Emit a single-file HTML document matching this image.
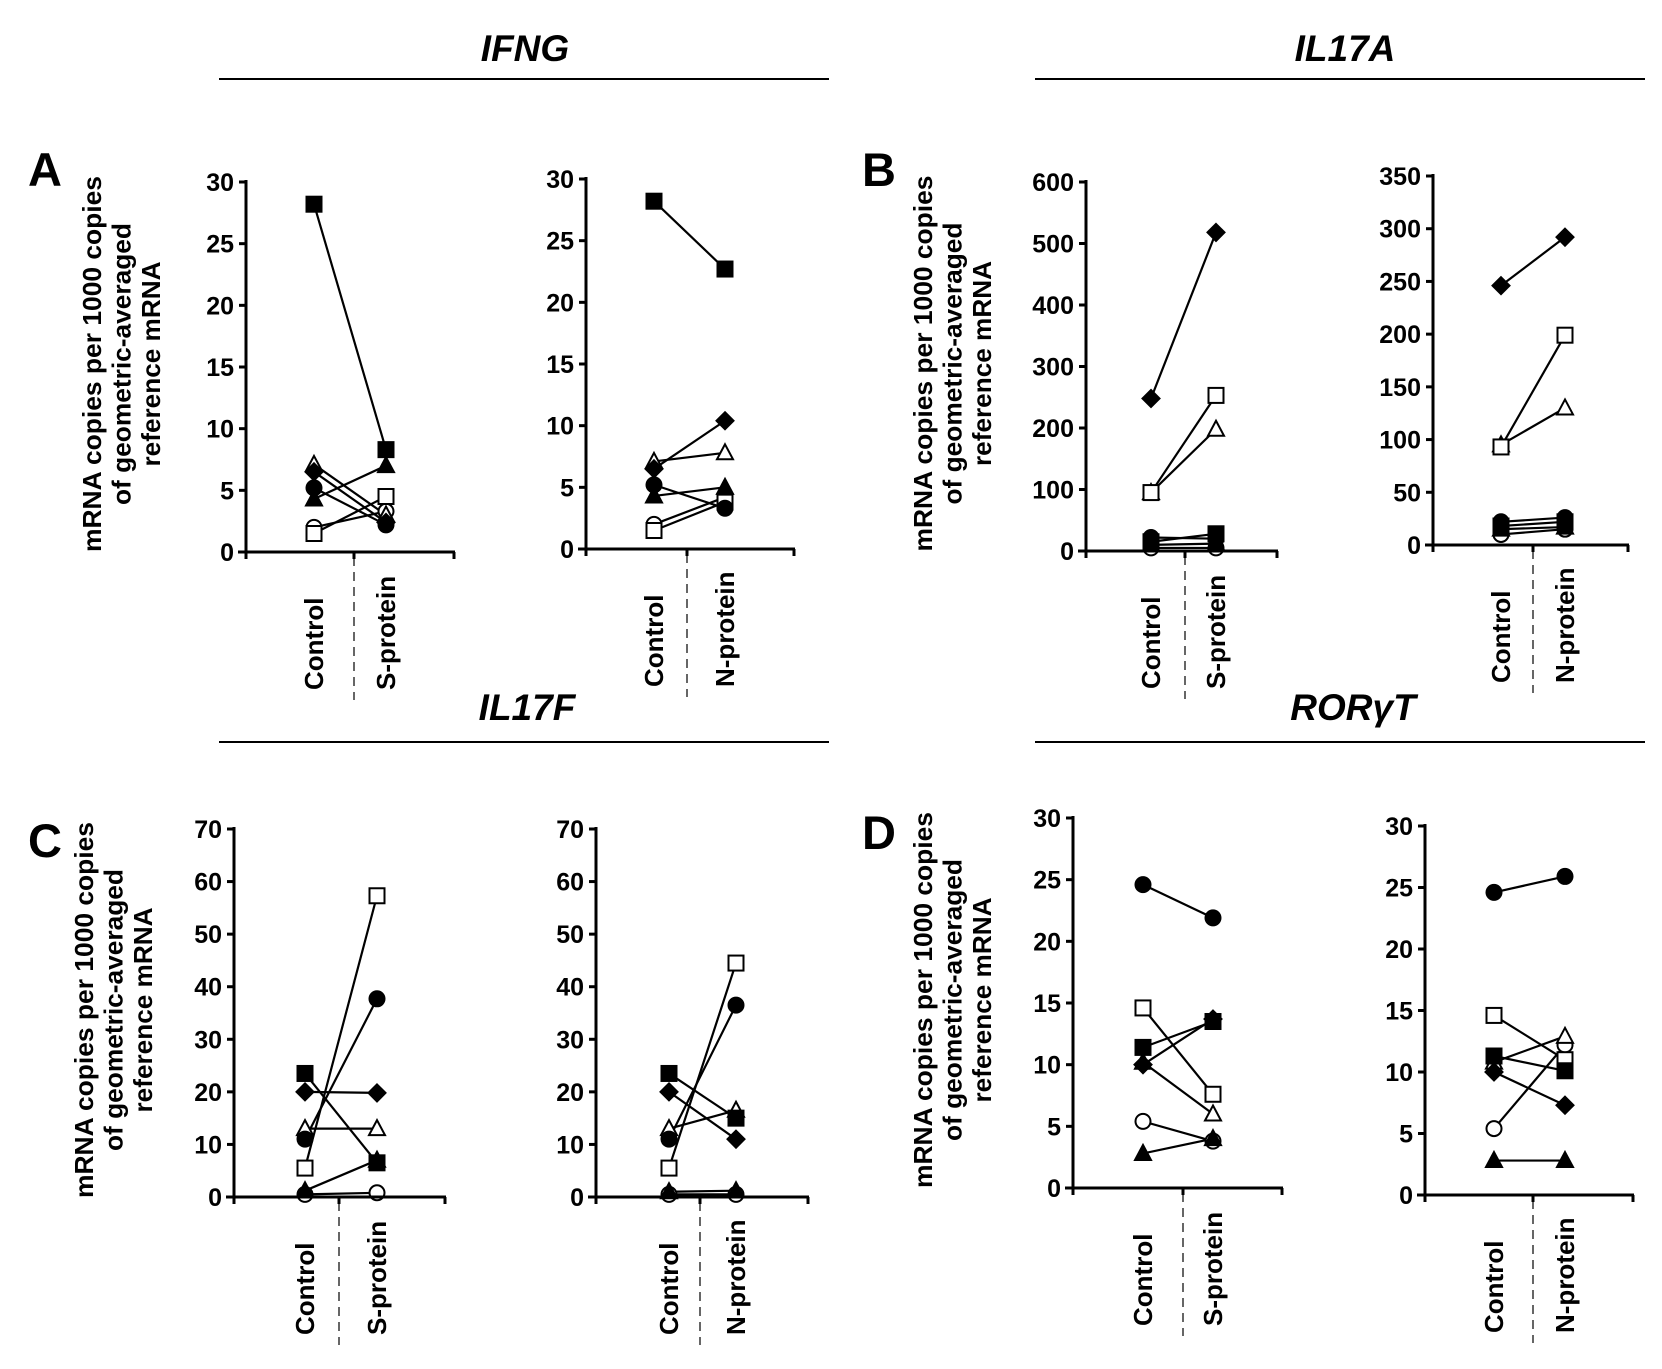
<!DOCTYPE html>
<html><head><meta charset="utf-8"><style>
html,body{margin:0;padding:0;background:#fff;overflow:hidden}
svg{display:block}
text{font-family:"Liberation Sans",Arial,sans-serif;font-weight:bold;fill:#000}
</style></head><body>
<svg id="fig" width="1662" height="1369" viewBox="0 0 1662 1369" xmlns="http://www.w3.org/2000/svg">
<rect width="1662" height="1369" fill="#fff"/>
<g><text x="525" y="61" font-size="37" font-style="italic" text-anchor="middle">IFNG</text><line x1="219" y1="79" x2="829" y2="79" stroke="#000" stroke-width="2"/></g>
<g><text x="1345" y="61" font-size="37" font-style="italic" text-anchor="middle">IL17A</text><line x1="1035" y1="79" x2="1645" y2="79" stroke="#000" stroke-width="2"/></g>
<g><text x="527" y="720" font-size="37" font-style="italic" text-anchor="middle">IL17F</text><line x1="219" y1="742" x2="829" y2="742" stroke="#000" stroke-width="2"/></g>
<g><text x="1353" y="720" font-size="37" font-style="italic" text-anchor="middle">RORγT</text><line x1="1035" y1="742" x2="1645" y2="742" stroke="#000" stroke-width="2"/></g>
<text x="28" y="186" font-size="47">A</text>
<text x="862" y="186" font-size="47">B</text>
<text x="28" y="857" font-size="47">C</text>
<text x="862" y="849" font-size="47">D</text>
</svg>
<script>
// Marker order for every panel: filled square, filled diamond, filled circle, filled triangle, open square, open triangle, open circle
const markers = ["fsq","fdi","fci","ftr","osq","otr","oci"];
const catsS = ["Control","S-protein"];
const catsN = ["Control","N-protein"];

const ifngS_ctrl = [28.2, 6.5, 5.2, 4.3, 1.5, 7.1, 2.0];
const ifngS_stim = [8.3, 2.4, 2.2, 7.0, 4.5, 3.0, 3.3];
const ifngN_ctrl = [28.2, 6.5, 5.2, 4.3, 1.5, 7.1, 2.0];
const ifngN_stim = [22.7, 10.4, 3.3, 5.0, 3.8, 7.8, 4.2];
const ifngTicks = [0,5,10,15,20,25,30];

const il17aS_ctrl = [15, 248, 22, 10, 95, 95, 5];
const il17aS_stim = [28, 518, 20, 12, 253, 198, 5];
const il17aN_ctrl = [18, 246, 22, 15, 93, 95, 10];
const il17aN_stim = [22, 292, 26, 17, 199, 130, 15];
const il17aSTicks = [0,100,200,300,400,500,600];
const il17aNTicks = [0,50,100,150,200,250,300,350];

const il17fS_ctrl = [23.5, 20, 11, 1.2, 5.5, 13, 0.5];
const il17fS_stim = [6.5, 19.8, 37.7, 7, 57.3, 13, 0.8];
const il17fN_ctrl = [23.5, 20, 11, 1, 5.5, 13, 0.5];
const il17fN_stim = [15, 11, 36.5, 1.2, 44.5, 16.5, 0.5];
const il17fTicks = [0,10,20,30,40,50,60,70];

const rorS_ctrl = [11.4, 10, 24.6, 2.8, 14.6, 10.2, 5.4];
const rorS_stim = [13.5, 13.7, 21.9, 4.0, 7.6, 6.0, 3.8];
const rorN_ctrl = [11.3, 10, 24.6, 2.8, 14.6, 10.8, 5.4];
const rorN_stim = [10.1, 7.3, 25.9, 2.8, 11, 12.9, 12.2];
const rorTicks = [0,5,10,15,20,25,30];

const NS = "http://www.w3.org/2000/svg";
const fig = document.getElementById("fig");
function mk(tag, attrs, parent){ const e=document.createElementNS(NS,tag); for(const k in attrs) e.setAttribute(k,attrs[k]); (parent||fig).appendChild(e); return e; }

function drawMarker(g, type, x, y){
  const s=7.5, fill = type[0]==="f" ? "#000" : "#fff";
  let e;
  const k=type.slice(1);
  if(k==="sq") e=mk("rect",{x:x-s,y:y-s,width:2*s,height:2*s,fill:fill,stroke:"#000","stroke-width":2},g);
  else if(k==="ci") e=mk("circle",{cx:x,cy:y,r:s,fill:fill,stroke:"#000","stroke-width":2},g);
  else if(k==="di") e=mk("polygon",{points:`${x},${y-8.5} ${x+8.5},${y} ${x},${y+8.5} ${x-8.5},${y}`,fill:fill,stroke:"#000","stroke-width":2},g);
  else e=mk("polygon",{points:`${x},${y-8.5} ${x+8},${y+6.5} ${x-8},${y+6.5}`,fill:fill,stroke:"#000","stroke-width":2},g);
  
  
}

function panel(name, x0, yTop, yZero, xEnd, cx1, cx2, xDash, ticks, cats, ctrl, stim, ylabel){
  const g = mk("g",{});
  
  
  const max = ticks[ticks.length-1];
  const Y = v => yZero - (yZero-yTop)*v/max;
  for(let i=0;i<ctrl.length;i++){
    const l = mk("line",{x1:cx1,y1:Y(ctrl[i]),x2:cx2,y2:Y(stim[i]),stroke:"#000","stroke-width":2.2},g);
    
    
  }
  for(let i=ctrl.length-1;i>=0;i--){ drawMarker(g,markers[i],cx1,Y(ctrl[i])); drawMarker(g,markers[i],cx2,Y(stim[i])); }
  const ya = mk("line",{x1:x0,y1:yTop-2,x2:x0,y2:yZero+1.5,stroke:"#000","stroke-width":3},g);
  
  
  const xa = mk("line",{x1:x0-8,y1:yZero,x2:xEnd,y2:yZero,stroke:"#000","stroke-width":3},g);
  
  
  [x0, xDash, xEnd-1].forEach(tx=>mk("line",{x1:tx,y1:yZero,x2:tx,y2:yZero+7,stroke:"#000","stroke-width":3},g));
  ticks.forEach(t=>{
    mk("line",{x1:x0-7,y1:Y(t),x2:x0,y2:Y(t),stroke:"#000","stroke-width":3},g);
    const tl = mk("text",{x:x0-12,y:Y(t)+9,"font-size":25,"text-anchor":"end"},g);
    tl.textContent = t;
    
    
  });
  const d = mk("line",{x1:xDash,y1:yZero+5,x2:xDash,y2:yZero+148,stroke:"#000","stroke-width":1.2,"stroke-dasharray":"9,6"},g);
  
  
  [[cx1,cats[0]],[cx2,cats[1]]].forEach(([cx,c])=>{
    const t = mk("text",{x:0,y:0,"font-size":26,transform:`translate(${cx+9},${yZero+138}) rotate(-90)`},g);
    t.textContent = c;
    
    
  });
  if(ylabel){
    const lines=["mRNA copies per 1000 copies","of geometric-averaged","reference mRNA"];
    const lens=[376,282,205];
    const cy=(yTop+yZero)/2-3;
    lines.forEach((s,i)=>{
      const t = mk("text",{x:0,y:0,"font-size":26,"text-anchor":"middle",textLength:lens[i],lengthAdjust:"spacingAndGlyphs",transform:`translate(${ylabel+10+i*29.5},${cy}) rotate(-90)`},g);
      t.textContent = s;
      
      
    });
  }
}

panel("ifng-s-chart",246,182,552,455,314,386,354,ifngTicks,catsS,ifngS_ctrl,ifngS_stim,91);
panel("ifng-n-chart",586,179,549,795,654,725,687,ifngTicks,catsN,ifngN_ctrl,ifngN_stim,null);
panel("il17a-s-chart",1086,182,551,1278,1151,1216,1185,il17aSTicks,catsS,il17aS_ctrl,il17aS_stim,922);
panel("il17a-n-chart",1433,176,545,1629,1501,1565,1533,il17aNTicks,catsN,il17aN_ctrl,il17aN_stim,null);
panel("il17f-s-chart",234,829,1197,446,305,377,339,il17fTicks,catsS,il17fS_ctrl,il17fS_stim,83);
panel("il17f-n-chart",596,829,1197,809,669,736,700,il17fTicks,catsN,il17fN_ctrl,il17fN_stim,null);
panel("rorgt-s-chart",1073,818,1188,1283,1143,1213,1183,rorTicks,catsS,rorS_ctrl,rorS_stim,922);
panel("rorgt-n-chart",1425,826,1195,1634,1494,1565,1533,rorTicks,catsN,rorN_ctrl,rorN_stim,null);
</script>
</body></html>
